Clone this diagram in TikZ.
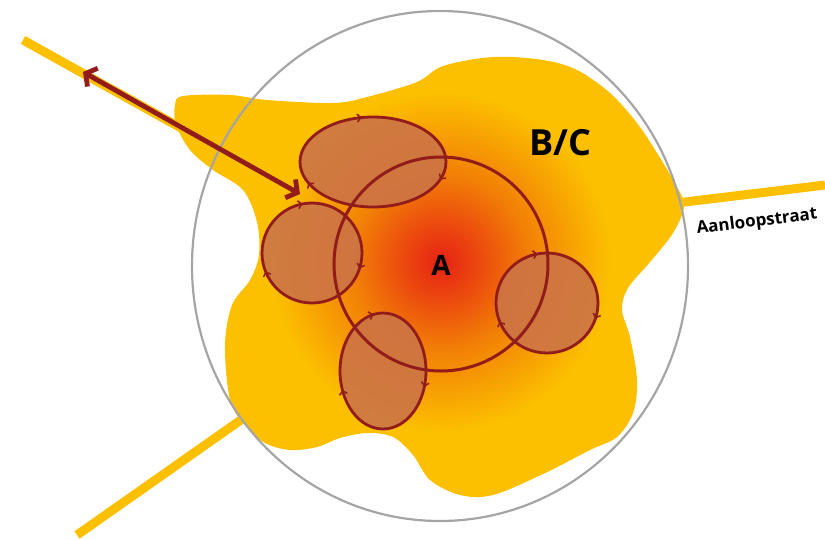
\documentclass[tikz,border=0pt]{standalone}
\usepackage{fontspec}
\setsansfont{Open Sans}
\usetikzlibrary{arrows.meta,decorations.markings}
\definecolor{geel}{RGB}{252,192,0}
\definecolor{donkerrood}{RGB}{145,28,26}
\definecolor{bruin}{RGB}{204,116,70}
\definecolor{heetrood}{RGB}{230,34,20}
\definecolor{roodoranje}{RGB}{236,76,14}
\definecolor{oranje}{RGB}{242,128,6}
\definecolor{grijs}{RGB}{165,165,165}
\pgfdeclareradialshading{kern}{\pgfpoint{0bp}{0bp}}{color(0bp)=(heetrood); color(6bp)=(roodoranje); color(13bp)=(oranje); color(25bp)=(geel); color(50bp)=(geel)}
\newcommand{\vlekvorm}{plot[smooth cycle, tension=0.55] coordinates {
  (183,96) (230,95) (267,100) (333,103) (367,97) (417,82) (443,66) (493,57)
  (543,60) (577,70) (610,93) (637,123) (657,153) (673,180) (684,205) (673,233)
  (650,262) (628,288) (622,310) (630,337) (637,380) (633,413) (617,437) (590,450)
  (543,474) (493,495) (460,495) (430,480) (413,455) (393,437) (367,433) (340,438)
  (317,447) (290,450) (265,443) (245,425) (230,400) (225,345) (232,305) (250,280)
  (259,255) (257,222) (243,190) (213,170) (190,150) (176,125) (175,105)}}

\begin{document}
\begin{tikzpicture}[x=1pt, y=-1pt,
  weg/.style={geel, line width=9pt},
  lustip/.tip={Straight Barb[length=3.5pt, width=8pt, line width=1.5pt]},
  lus/.style={draw=donkerrood, line width=2.8pt, fill=bruin, fill opacity=0.9,
    postaction={decorate},
    decoration={markings,
      mark=at position 0.05 with {\arrow[donkerrood]{lustip}},
      mark=at position 0.44 with {\arrow[donkerrood]{lustip}},
      mark=at position 0.72 with {\arrow[donkerrood]{lustip}}}},
  tekst/.style={text=black, inner sep=0pt}]
  \useasboundingbox (0,0) rectangle (825,539);
  % Wegen
  \draw[weg] (23,40) -- (235,158);
  \draw[weg] (77,535) -- (255,410);
  \draw[weg] (660,205) -- (825,185);
  % Vlek B/C met kern A
  \fill[geel] \vlekvorm;
  \begin{scope}
    \clip \vlekvorm;
    \shade[shading=kern] (441,262) circle (170);
  \end{scope}
  % Invloedsgebied
  \draw[grijs, line width=2.2pt] (440,266) ellipse [x radius=248, y radius=255];
  % Deelgebieden
  \path[lus] (373,162) ellipse [x radius=73, y radius=45];
  \path[lus] (312,253) ellipse [x radius=50, y radius=50];
  \path[lus] (383,371) ellipse [x radius=43, y radius=58];
  \path[lus] (547,303) ellipse [x radius=51, y radius=50];
  % Ring rond A
  \draw[donkerrood, line width=3pt] (441,264) circle (107);
  % Pijl
  \coordinate (pijlbinnen) at (300,194);
  \coordinate (pijlbuiten) at (83,72);
  \draw[donkerrood, line width=4.8pt,
    {Straight Barb[length=8pt, width=21pt]}-{Straight Barb[length=8pt, width=21pt]}]
    (pijlbinnen) -- (pijlbuiten);
  % Teksten
  \node[tekst, font=\sffamily\bfseries\fontsize{28}{30}\selectfont] (kernA) at (441,265) {A};
  \node[tekst, font=\sffamily\bfseries\fontsize{36}{40}\selectfont] (gebiedBC) at (560,143) {B/C};
  \node[tekst, font=\sffamily\bfseries\fontsize{17}{19}\selectfont, rotate=7] (straat) at (757,222) {Aanloopstraat};
\end{tikzpicture}
\end{document}
